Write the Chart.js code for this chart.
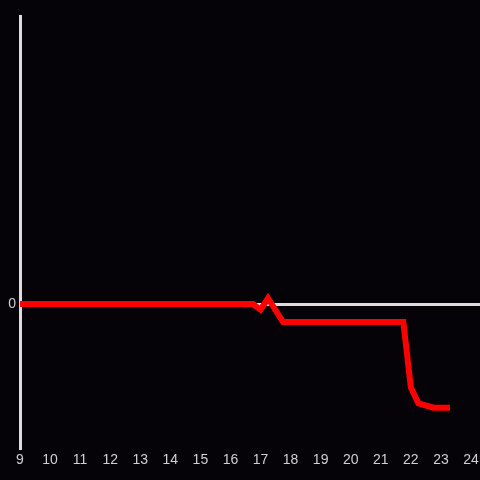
<!DOCTYPE html>
<html>
<head>
<meta charset="utf-8">
<script src="https://cdn.jsdelivr.net/npm/chart.js@4/dist/chart.umd.min.js"></script>
<style>
  html, body { margin: 0; padding: 0; background: #050308; }
  #wrap { width: 480px; height: 480px; }
</style>
</head>
<body>
<div id="wrap"><canvas id="c" width="480" height="480"></canvas></div>
<script>
const hours  = [9, 16.75, 17.0, 17.25, 17.75, 21.75, 22.0, 22.25, 22.75, 23.3];
const values = [0, 0, -0.04, 0.04, -0.125, -0.125, -0.58, -0.69, -0.72, -0.72];
const xTickLabels = [9,10,11,12,13,14,15,16,17,18,19,20,21,22,23,24];
const yTickLabels = [0];

const points = hours.map((h, i) => ({ x: h, y: values[i] }));

new Chart(document.getElementById('c'), {
  type: 'line',
  data: {
    datasets: [{
      data: points,
      borderColor: '#ff0000',
      borderWidth: 6,
      pointRadius: 0,
      tension: 0,
      fill: false,
      borderJoinStyle: 'miter'
    }]
  },
  options: {
    responsive: false,
    animation: false,
    layout: { padding: { top: 16, right: 0, left: 0, bottom: 0 } },
    plugins: { legend: { display: false }, tooltip: { enabled: false } },
    scales: {
      x: {
        type: 'linear',
        min: 9,
        max: 24.3,
        afterBuildTicks: s => { s.ticks = xTickLabels.map(v => ({ value: v })); },
        afterFit: s => { s.height = 32; s.paddingRight = 0; s.paddingLeft = 0; },
        grid: { display: false, drawTicks: false },
        border: { display: false },
        ticks: {
          color: '#d0d0d0',
          font: { family: 'Liberation Sans', size: 14 },
          padding: 4,
          maxRotation: 0,
          autoSkip: false
        }
      },
      y: {
        type: 'linear',
        min: -1,
        max: 2,
        afterBuildTicks: s => { s.ticks = yTickLabels.map(v => ({ value: v })); },
        afterFit: s => { s.width = 20; s.paddingTop = 0; s.paddingBottom = 0; },
        grid: { color: '#dddddd', lineWidth: 3, drawTicks: false },
        border: { display: true, color: '#dddddd', width: 3 },
        ticks: {
          color: '#d0d0d0',
          font: { family: 'Liberation Sans', size: 14 },
          padding: 4
        }
      }
    }
  }
});
</script>
</body>
</html>
